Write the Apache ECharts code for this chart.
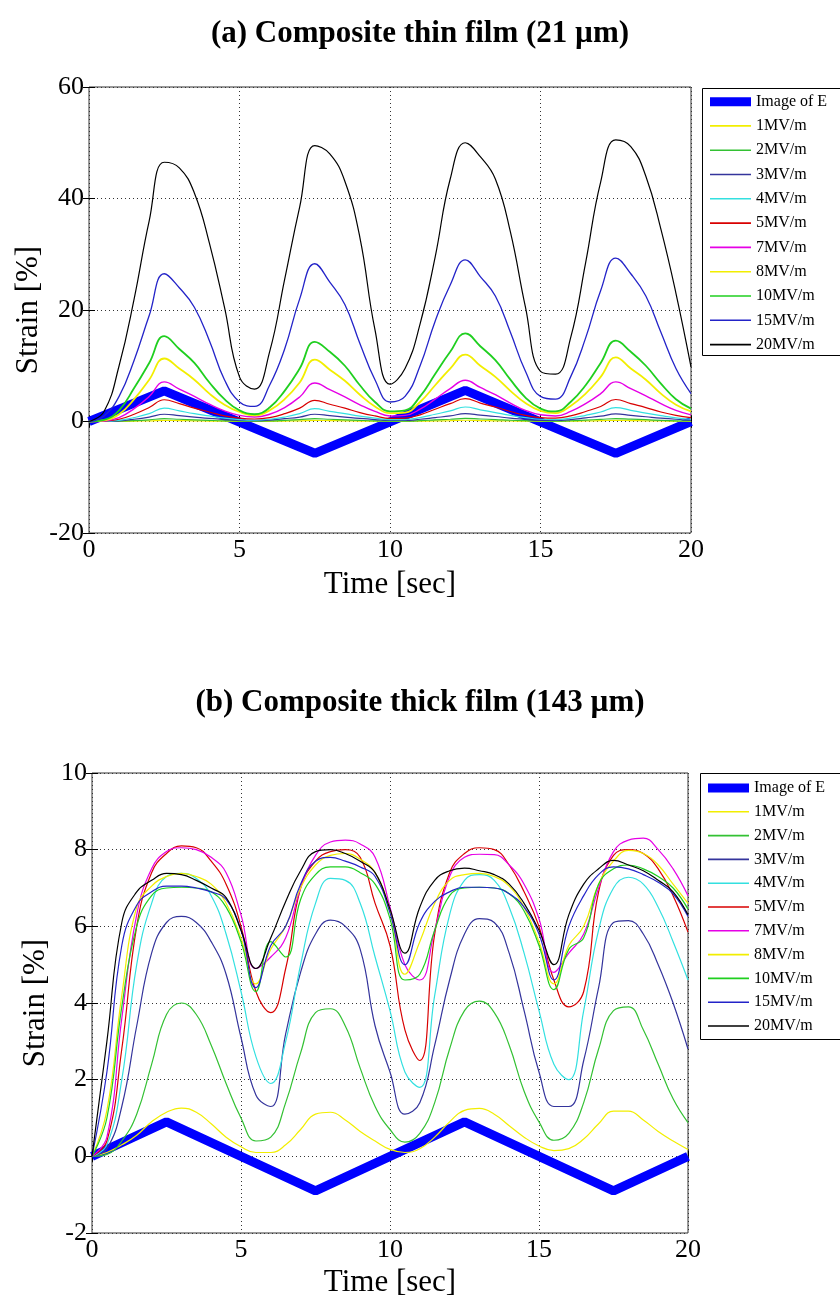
<!DOCTYPE html>
<html><head><meta charset="utf-8">
<script src="https://cdn.jsdelivr.net/npm/echarts@6/dist/echarts.min.js"></script>
<style>html,body{margin:0;padding:0;background:#fff}#c{width:840px;height:1299px}</style>
</head><body><div id="c"></div><script>
// shared time grid [sec]
const time = [0,0.5,1,1.5,2,2.5,3,3.5,4,4.5,5,5.5,6,6.5,7,7.5,8,8.5,9,9.5,10,10.5,11,11.5,12,12.5,13,13.5,14,14.5,15,15.5,16,16.5,17,17.5,18,18.5,19,19.5,20];
const names = ['Image of E','1MV/m','2MV/m','3MV/m','4MV/m','5MV/m','7MV/m','8MV/m','10MV/m','15MV/m','20MV/m'];
// image of E (triangle wave) vertices
const eTime = [0,2.5,7.5,12.5,17.5,20];
const eTop = [0,5.5,-5.7,5.6,-5.7,0];
const eBot = [0,0.9,-0.9,0.9,-0.9,0];
// (a) thin film strain [%]
const a1 = [0,0,0.02,0.06,0.12,0.2,0.16,0.12,0.08,0.05,0.03,0.02,0.04,0.08,0.13,0.2,0.16,0.12,0.08,0.05,0.03,0.03,0.06,0.1,0.15,0.22,0.17,0.13,0.09,0.05,0.03,0.03,0.05,0.1,0.14,0.21,0.17,0.13,0.09,0.05,0.03];
const a2 = [0,0,0.05,0.15,0.3,0.5,0.4,0.3,0.2,0.12,0.08,0.06,0.1,0.2,0.32,0.5,0.4,0.3,0.2,0.12,0.08,0.08,0.15,0.28,0.4,0.55,0.45,0.35,0.22,0.14,0.09,0.08,0.13,0.25,0.38,0.52,0.42,0.32,0.21,0.13,0.09];
const a3 = [0,0,0.1,0.4,0.8,1.3,1.05,0.8,0.55,0.35,0.2,0.15,0.25,0.5,0.8,1.3,1.05,0.8,0.55,0.35,0.2,0.2,0.4,0.7,1.0,1.4,1.15,0.9,0.6,0.4,0.2,0.2,0.35,0.65,0.95,1.35,1.1,0.85,0.6,0.4,0.25];
const a4 = [0,0,0.2,0.7,1.4,2.4,1.9,1.4,1.0,0.6,0.35,0.25,0.4,0.8,1.4,2.3,1.8,1.4,0.95,0.6,0.35,0.35,0.7,1.3,1.9,2.6,2.1,1.6,1.1,0.7,0.4,0.35,0.6,1.1,1.7,2.5,2,1.5,1.05,0.65,0.4];
const a5 = [0,0.05,0.4,1.3,2.5,3.9,3.2,2.4,1.7,1.0,0.6,0.45,0.7,1.4,2.4,3.8,3.1,2.4,1.6,1.0,0.55,0.6,1.2,2.2,3.2,4.1,3.3,2.6,1.8,1.1,0.7,0.6,1.0,1.8,2.7,3.95,3.2,2.5,1.7,1.1,0.7];
const a7 = [0,0.1,0.7,2.3,4.5,7.1,5.8,4.5,3.1,1.9,1.1,0.8,1.3,2.5,4.4,6.9,5.7,4.4,3,1.8,1.0,1.1,2.2,4,5.9,7.4,6.1,4.8,3.3,2,1.2,1,1.8,3.2,5,7.1,5.9,4.6,3.2,2,1.2];
const a8 = [0,0.2,1.3,4,7.5,11.3,9.5,7.5,5,3,1.7,1.1,2,4,7,11.1,9.3,7.3,4.8,2.7,1.5,1.6,3.5,6.5,9.5,12,10,8,5.5,3.3,1.9,1.5,2.8,5,8,11.5,9.5,7.5,5,3,1.8];
const a10 = [0,0.3,2,6,10.5,15.3,13,10.5,7,4,2,1.3,2.5,5.5,9.5,14.3,12.5,10,6.5,3.5,1.8,2,4.5,8.5,12.5,15.8,13.5,11,7.5,4.3,2.3,1.8,3.5,6.5,10.5,14.5,12.5,10,6.8,4,2.3];
const a15 = [0,1,4.5,11,19,26.5,24,20.5,14.5,7.5,3.5,2.7,6.5,13,22,28.3,25,21,14,7.5,3.5,4.5,10,18,24.5,29,26,22.5,16,9,4.5,4,8,15,23.5,29.3,26.5,22.5,16,9.5,5];
const a20 = [0,1.8,10,22,36,46.5,45.5,41,32,20.5,8,5.8,12.5,25.5,38.5,49.5,48,43.1,33,16.5,6.7,9.5,17.5,29.5,43.5,50,47.5,43.5,34,20.5,9,8.5,15,28.5,43,50.5,49.3,44,34.5,23,9.8];
// (b) thick film strain [%]
const b1 = [0,0.1,0.3,0.55,0.9,1.15,1.26,1.15,0.85,0.5,0.25,0.1,0.1,0.3,0.7,1.1,1.15,0.95,0.65,0.4,0.18,0.1,0.2,0.5,0.9,1.2,1.25,1.1,0.8,0.5,0.27,0.15,0.2,0.45,0.85,1.18,1.18,0.95,0.65,0.4,0.18];
const b2 = [0,0.05,0.4,1.1,2.4,3.7,4.0,3.7,2.9,1.9,1.0,0.4,0.5,1.4,2.7,3.75,3.85,3.4,2.3,1.3,0.7,0.37,0.6,1.4,2.8,3.8,4.05,3.75,2.9,1.7,0.9,0.42,0.6,1.4,2.8,3.8,3.9,3.3,2.4,1.5,0.88];
const b3 = [0,0.2,1.3,3.4,5.3,6.1,6.26,6.1,5.6,4.75,3.1,1.6,1.3,3.2,4.8,5.8,6.16,6.0,5.4,3.4,2.2,1.1,1.4,2.9,4.6,5.8,6.2,6.1,5.3,3.8,2.2,1.3,1.3,2.5,4.4,6.1,6.15,5.8,5.0,4.0,2.8];
const b4 = [0,0.3,2.0,5.0,6.6,7.3,7.38,7.25,6.8,5.8,4.3,2.6,1.9,3.0,5.0,6.6,7.25,7.2,6.6,5.2,3.8,2.2,1.8,4.2,6.3,7.2,7.35,7.2,6.5,5.3,3.8,2.4,2.0,3.8,5.9,7.0,7.28,7.1,6.5,5.6,4.6];
const b5 = [0,0.4,2.8,6.0,7.4,7.9,8.1,8.05,7.7,7.1,6.0,4.3,3.75,4.9,7.0,7.7,7.95,8.0,7.8,6.6,5.5,3.3,2.5,5.8,7.4,7.9,8.05,8.0,7.6,6.9,6.0,4.6,3.9,4.3,6.9,7.85,8.0,7.9,7.5,6.8,5.85];
const b7 = [0,0.5,3.6,6.3,7.5,7.95,8.05,8.0,7.8,7.4,6.3,4.9,5.2,5.7,7.0,7.85,8.2,8.25,8.15,7.8,6.5,5.0,4.6,5.9,7.3,7.8,7.88,7.87,7.6,7.1,6.2,4.8,5.3,5.8,7.0,7.95,8.25,8.3,8.0,7.5,6.8];
const b8 = [0,1.2,4.2,6.5,7.05,7.3,7.38,7.3,7.1,6.6,5.7,4.5,5.4,6.0,7.0,7.6,7.85,7.9,7.75,7.4,6.4,4.75,5.6,6.6,7.2,7.35,7.38,7.3,7.05,6.5,5.6,4.5,5.5,6.0,7.1,7.7,7.98,7.9,7.6,7.1,6.6];
const b10 = [0,1.0,3.9,6.0,6.8,7.0,7.02,7.0,6.9,6.5,5.6,4.3,5.6,5.2,6.7,7.35,7.55,7.55,7.4,7.1,6.2,4.6,4.75,5.9,6.8,7.0,7.02,7.0,6.85,6.4,5.5,4.35,5.4,5.7,7.1,7.5,7.6,7.5,7.3,7.0,6.45];
const b15 = [0,2.2,5.5,6.55,6.9,7.05,7.05,7.0,6.9,6.7,5.9,4.4,5.5,6.0,7.1,7.7,7.8,7.7,7.55,7.3,6.35,5.0,6.1,6.65,6.9,7.02,7.02,7.0,6.85,6.5,5.8,4.6,6.0,6.8,7.35,7.55,7.5,7.35,7.15,6.85,6.26];
const b20 = [0,3.0,6.1,6.9,7.2,7.38,7.35,7.2,7.0,6.75,5.9,4.9,5.7,6.65,7.45,7.95,8.0,7.9,7.7,7.4,6.45,5.3,6.5,7.2,7.45,7.52,7.45,7.35,7.1,6.6,5.9,5.0,6.3,7.1,7.5,7.72,7.6,7.45,7.2,6.9,6.3];

const colors = ['#0000ff','#f2ee00','#33c133','#34349c','#33e0e0','#d80000','#e600e6','#f2ee00','#1fcf1f','#2323c8','#000000'];
const topSets = [a1,a2,a3,a4,a5,a7,a8,a10,a15,a20];
const botSets = [b1,b2,b3,b4,b5,b7,b8,b10,b15,b20];
const topWidths = [1.2,1.2,1.2,1.2,1.2,1.4,1.8,1.8,1.3,1.2];
const botWidths = [1.2,1.2,1.2,1.2,1.2,1.2,1.2,1.2,1.2,1.2];

const FONT = '"Liberation Serif", "Times New Roman", serif';
function lineSeries(name, xs, ys, color, width, ai, smooth) {
  return {type:'line', name, xAxisIndex: ai, yAxisIndex: ai, data: xs.map((t,i)=>[t, ys[i]]),
    symbol:'none', showSymbol:false, smooth: smooth,
    lineStyle:{color, width}, itemStyle:{color}, animation:false, z: 2};
}
const series = [];
series.push(lineSeries(names[0], eTime, eTop, colors[0], 9, 0, false));
topSets.forEach((s,k)=>series.push(lineSeries(names[k+1], time, s, colors[k+1], topWidths[k], 0, 0.45)));
series.push(lineSeries(names[0], eTime, eBot, colors[0], 9, 2, false));
botSets.forEach((s,k)=>series.push(lineSeries(names[k+1], time, s, colors[k+1], botWidths[k], 2, 0.45)));

const dotted = {show:true, lineStyle:{color:'#333', width:1, type:[1,3]}};
function xAx(grid, pos, labels, nameGap) {
  return {type:'value', gridIndex: grid, position: pos, min:0, max:20, interval:5,
    axisLine:{show:false}, axisTick:{show:true, inside:true, length:6, lineStyle:{color:'#000'}},
    axisLabel:{show: labels, color:'#000', fontFamily: FONT, fontSize: 26, margin: 4},
    splitLine: labels ? dotted : {show:false},
    name: labels ? 'Time [sec]' : '', nameLocation:'middle', nameGap: nameGap, nameMoveOverlap:false,
    nameTextStyle:{color:'#000', fontFamily: FONT, fontSize: 31}};
}
function yAx(grid, pos, labels, min, max, interval, nameGap) {
  return {type:'value', gridIndex: grid, position: pos, min, max, interval,
    axisLine:{show:false}, axisTick:{show:true, inside:true, length:6, lineStyle:{color:'#000'}},
    axisLabel:{show: labels, color:'#000', fontFamily: FONT, fontSize: 26, margin: 5},
    splitLine: labels ? dotted : {show:false},
    name: labels ? 'Strain [%]' : '', nameLocation:'middle', nameGap: nameGap, nameMoveOverlap:false,
    nameTextStyle:{color:'#000', fontFamily: FONT, fontSize: 31}};
}
function legendCfg(data, top, left, gap, iconH) {
  return {show:true, data, orient:'vertical', left, top, selectedMode:false, icon:'rect',
    padding:0, itemWidth:41, itemHeight:iconH, itemGap: gap, align:'left', z: 10,
    textStyle:{color:'#000', fontFamily: FONT, fontSize:16, lineHeight:16}};
}

const option = {
  backgroundColor:'#fff',
  animation:false,
  grid:[
    {left:89, top:87, width:602, height:446, show:true, borderColor:'#333', borderWidth:1, backgroundColor:'#fff'},
    {left:92, top:773, width:596, height:461, show:true, borderColor:'#333', borderWidth:1, backgroundColor:'#fff'}
  ],
  xAxis:[xAx(0,'bottom',true,36), xAx(0,'top',false,0), xAx(1,'bottom',true,34), xAx(1,'top',false,0)],
  yAxis:[yAx(0,'left',true,-20,60,20,45), yAx(0,'right',false,-20,60,20,0),
         yAx(1,'left',true,-2,10,2,41), yAx(1,'right',false,-2,10,2,0)],
  legend:[
    legendCfg(names.slice(0,1), 93.7, 710, 8.3, 9),
    legendCfg(names.slice(1), 117.9, 710, 8.3, 1.6),
    legendCfg(names.slice(0,1), 780, 708, 7.8, 9),
    legendCfg(names.slice(1), 803.8, 708, 7.8, 1.6)
  ],
  graphic:[
    {type:'rect', shape:{x:702.5, y:88.5, width:145, height:267}, style:{fill:'#fff', stroke:'#000', lineWidth:1}, z:1},
    {type:'rect', shape:{x:700.5, y:773.5, width:145, height:266}, style:{fill:'#fff', stroke:'#000', lineWidth:1}, z:1},
    {type:'text', left:'center', top:18, style:{text:'(a) Composite thin film (21 µm)', font:'bold 31px ' + FONT, fill:'#000'}},
    {type:'text', left:'center', top:687, style:{text:'(b) Composite thick film (143 µm)', font:'bold 31px ' + FONT, fill:'#000'}}
  ],
  series
};
const chart = echarts.init(document.getElementById('c'), null, {renderer:'canvas'});
chart.setOption(option);
</script></body></html>
